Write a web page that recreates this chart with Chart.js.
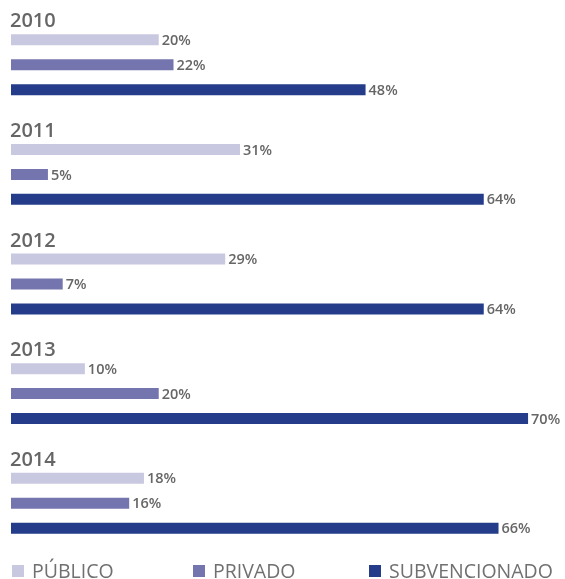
<!DOCTYPE html>
<html>
<head>
<meta charset="utf-8">
<script src="https://cdn.jsdelivr.net/npm/chart.js@4"></script>
<style>
  html, body { margin: 0; padding: 0; background: #ffffff; }
  #wrap { width: 565px; height: 579px; position: relative; }
</style>
</head>
<body>
<div id="wrap"><canvas id="c"></canvas></div>
<script>
// ---- data ----
const years = ['2010', '2011', '2012', '2013', '2014'];
const seriesNames = ['PÚBLICO', 'PRIVADO', 'SUBVENCIONADO'];
const publico = [20, 31, 29, 10, 18];
const privado = [22, 5, 7, 20, 16];
const subvencionado = [48, 64, 64, 70, 66];

const colors = ['#c8c8e0', '#7474ae', '#243c8a'];
const textGray = '#666666';

const yearTitles = {
  id: 'yearTitles',
  afterDatasetsDraw(chart) {
    const ctx = chart.ctx;
    ctx.save();
    // year headings
    ctx.fillStyle = textGray;
    ctx.font = '600 20px "Open Sans"';
    ctx.textBaseline = 'alphabetic';
    ctx.textAlign = 'left';
    years.forEach((yr, i) => {
      const meta0 = chart.getDatasetMeta(0).data[i];
      const top = meta0.y - meta0.height / 2;
      ctx.fillText(yr, 10, top - 7);
    });
    // value labels
    ctx.font = '600 14.5px "Open Sans"';
    ctx.textBaseline = 'middle';
    chart.data.datasets.forEach((ds, di) => {
      chart.getDatasetMeta(di).data.forEach((bar, i) => {
        ctx.fillText(ds.data[i] + '%', bar.x + 3, bar.y + 1);
      });
    });
    // legend
    const legendX = [12, 193, 369];
    ctx.font = '500 19.5px "Open Sans"';
    ctx.textBaseline = 'alphabetic';
    chart.data.datasets.forEach((ds, di) => {
      ctx.fillStyle = ds.backgroundColor;
      ctx.fillRect(legendX[di], 565, 12, 12);
      ctx.fillStyle = '#707070';
      ctx.fillText(ds.label, legendX[di] + 20, 578);
    });
    ctx.restore();
  }
};

new Chart(document.getElementById('c'), {
  type: 'bar',
  data: {
    labels: years,
    datasets: [
      { label: seriesNames[0], data: publico, backgroundColor: colors[0] },
      { label: seriesNames[1], data: privado, backgroundColor: colors[1] },
      { label: seriesNames[2], data: subvencionado, backgroundColor: colors[2] }
    ]
  },
  options: {
    indexAxis: 'y',
    responsive: true,
    maintainAspectRatio: false,
    animation: false,
    layout: { padding: { left: 11, right: 0, top: 10, bottom: 21 } },
    datasets: { bar: { categoryPercentage: 0.683, barPercentage: 0.44, borderWidth: 0 } },
    scales: {
      x: { display: false, min: 0, max: 75 },
      y: { display: false }
    },
    plugins: {
      legend: { display: false },
      tooltip: { enabled: false }
    }
  },
  plugins: [yearTitles]
});
</script>
</body>
</html>
